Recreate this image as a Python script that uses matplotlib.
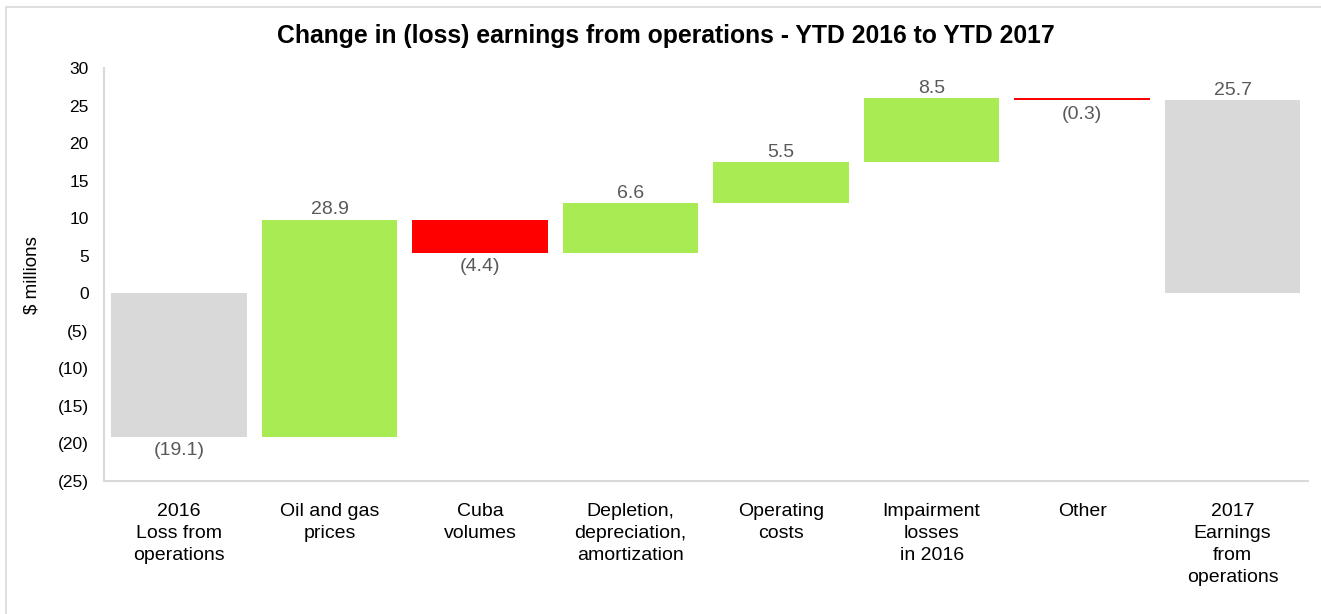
import numpy as np
import matplotlib
matplotlib.use("Agg")
import matplotlib.pyplot as plt
from matplotlib.patches import Rectangle
from matplotlib.ticker import FuncFormatter

plt.rcParams['font.family'] = ['Liberation Sans', 'DejaVu Sans']

categories = ["2016\nLoss from\noperations", "Oil and gas\nprices", "Cuba\nvolumes",
              "Depletion,\ndepreciation,\namortization", "Operating\ncosts",
              "Impairment\nlosses\nin 2016", "Other", "2017\nEarnings\nfrom\noperations"]
start_value = -19.1
changes = [28.9, -4.4, 6.6, 5.5, 8.5, -0.3]
end_value = 25.7

green = '#a9eb52'
red = '#ff0000'
grey = '#d9d9d9'
label_col = '#595959'

fig = plt.figure(figsize=(13.21, 6.14), dpi=100)
ax = fig.add_axes([0.0787, 0.2166, 0.9113, 0.6724])

# build waterfall bottoms/heights
bottoms, heights, colors = [], [], []
bottoms.append(0); heights.append(start_value); colors.append(grey)
running = start_value
for c in changes:
    bottoms.append(running)
    heights.append(c)
    colors.append(green if c > 0 else red)
    running += c
bottoms.append(0); heights.append(end_value); colors.append(grey)
values = [start_value] + changes + [end_value]

x = np.arange(len(categories))
ax.bar(x, heights, bottom=bottoms, width=0.9, color=colors, edgecolor='none')

def fmt(v):
    return f"({abs(v):.1f})" if v < 0 else f"{v:.1f}"

for xi, b, h, v in zip(x, bottoms, heights, values):
    top = max(b, b + h)
    low = min(b, b + h)
    if v >= 0:
        ax.annotate(fmt(v), (xi, top), xytext=(0, 1), textcoords='offset points',
                    ha='center', va='bottom', fontsize=14, color=label_col)
    else:
        ax.annotate(fmt(v), (xi, low), xytext=(0, -4), textcoords='offset points',
                    ha='center', va='top', fontsize=14, color=label_col)

ax.set_xlim(-0.5, len(categories) - 0.5)
ax.set_ylim(-25, 30)
ax.set_yticks(np.arange(-25, 31, 5))
ax.yaxis.set_major_formatter(FuncFormatter(lambda v, p: f"({abs(int(v))})" if v < 0 else f"{int(v)}"))
ax.set_xticks(x)
ax.set_xticklabels(categories, fontsize=14, linespacing=1.38)
ax.tick_params(axis='y', length=0, pad=11, labelsize=12.5)
ax.tick_params(axis='x', length=0, pad=16)

for s in ['top', 'right']:
    ax.spines[s].set_visible(False)
for s in ['left', 'bottom']:
    ax.spines[s].set_color(grey)
    ax.spines[s].set_linewidth(1.5)

ax.set_ylabel("$ millions", fontsize=13.5, labelpad=12)
fig.text(0.504, 0.942, "Change in (loss) earnings from operations - YTD 2016 to YTD 2017",
         ha='center', va='center', fontsize=17.8, fontweight='bold')

fig.patches.append(Rectangle((6 / 1321, -0.01), 1.05, 1 - 7 / 614 + 0.01,
                             transform=fig.transFigure, fill=False,
                             edgecolor='#d9d9d9', linewidth=1.2))

fig.savefig("out.png", dpi=100)
